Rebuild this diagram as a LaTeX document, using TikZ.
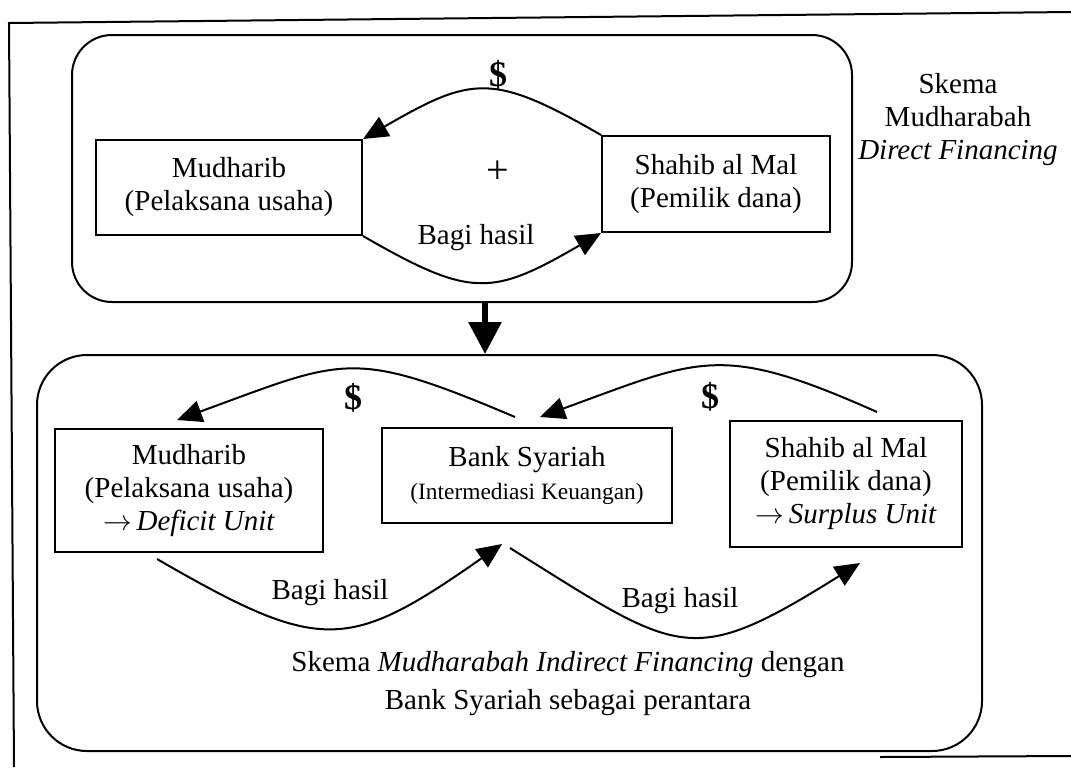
\documentclass[tikz,border=0pt]{standalone}
\usepackage{fontspec}
\setmainfont{Liberation Serif}
\usetikzlibrary{positioning,arrows.meta}

\begin{document}
\begin{tikzpicture}[x=0.5pt,y=-0.5pt,font=\fontsize{14.5}{16.5}\selectfont]
    \tikzstyle{party}=[draw, line width=1pt, align=center, inner sep=0pt]
    \tikzstyle{panel}=[draw, line width=1pt, inner sep=0pt]
    \tikzstyle{flow}=[line width=1pt,-{Triangle[length=12.5pt,width=11pt]}]
    \tikzstyle{money}=[font=\fontsize{18}{18}\selectfont\bfseries]
    \useasboundingbox (0,0) rectangle (1071,767);

    % frame
    \draw[line width=1pt] (14,767) -- (9,23) -- (1071,12);
    \draw[line width=1pt] (880,757) -- (1071,756);

    % direct financing
    \node[panel, rounded corners=20pt, minimum width=390pt, minimum height=133.5pt] (direct) at (462,168.5) {};
    \node[party, minimum width=133pt, minimum height=47.5pt] (mudharib) at (229,187.5) {Mudharib\\(Pelaksana usaha)};
    \node[party, minimum width=114pt, minimum height=48pt] (shahib) at (716,184) {Shahib al Mal\\(Pemilik dana)};
    \node[align=center] (directtitle) at (958,120) {Skema\\Mudharabah\\\textit{Direct Financing}};
    \node[font=\fontsize{20}{20}\selectfont] (plus) at (498,172) {+};
    \node[money] (dollar1) at (498,75) {\$};
    \node (share1) at (476,238) {Bagi hasil};
    \draw[flow] (shahib.north west) to[out=150,in=30,looseness=1.35] (mudharib.north east);
    \draw[flow] (mudharib.south east) to[out=-30,in=210,looseness=1.35] (shahib.south west);

    % indirect financing
    \node[panel, rounded corners=25pt, minimum width=472.5pt, minimum height=198pt] (indirect) at (509.5,553) {};
    \node[party, minimum width=134pt, minimum height=61.5pt] (deficit) at (189,490.5) {Mudharib\\(Pelaksana usaha)\\$\rightarrow$\,\textit{Deficit Unit}};
    \node[party, minimum width=145pt, minimum height=47.5pt] (bank) at (527,475.5) {Bank Syariah\\{\fontsize{11.7}{13}\selectfont (Intermediasi Keuangan)}};
    \node[party, minimum width=116pt, minimum height=63pt] (surplus) at (846,484) {Shahib al Mal\\(Pemilik dana)\\$\rightarrow$\,\textit{Surplus Unit}};
    \node[money] (dollar2) at (353,398) {\$};
    \node[money] (dollar3) at (710,397) {\$};
    \node (share2) at (330,593) {Bagi hasil};
    \node (share3) at (680,601) {Bagi hasil};
    \node[align=center, font=\fontsize{14.5}{19}\selectfont] (caption) at (568,684) {Skema \textit{Mudharabah Indirect Financing} dengan\\Bank Syariah sebagai perantara};

    % down to indirect financing
    \draw[line width=3pt,-{Triangle[length=16pt,width=16pt]}] ([xshift=11.5pt]direct.south) -- ([xshift=-12.25pt]indirect.north);

    \draw[flow] ([shift={(-12,-10)}]bank.north) to[out=157,in=20,looseness=1.35] ([shift={(-12,-8)}]deficit.north);
    \draw[flow] ([shift={(31,-8)}]surplus.north) to[out=156,in=20,looseness=1.3] ([shift={(13,-10)}]bank.north);
    \draw[flow] ([shift={(-32,6)}]deficit.south) to[out=-30,in=215,looseness=1.4] ([shift={(-25,20)}]bank.south);
    \draw[flow] ([shift={(-17,24)}]bank.south) to[out=-32,in=212,looseness=1.47] ([shift={(14,15)}]surplus.south);
\end{tikzpicture}
\end{document}
